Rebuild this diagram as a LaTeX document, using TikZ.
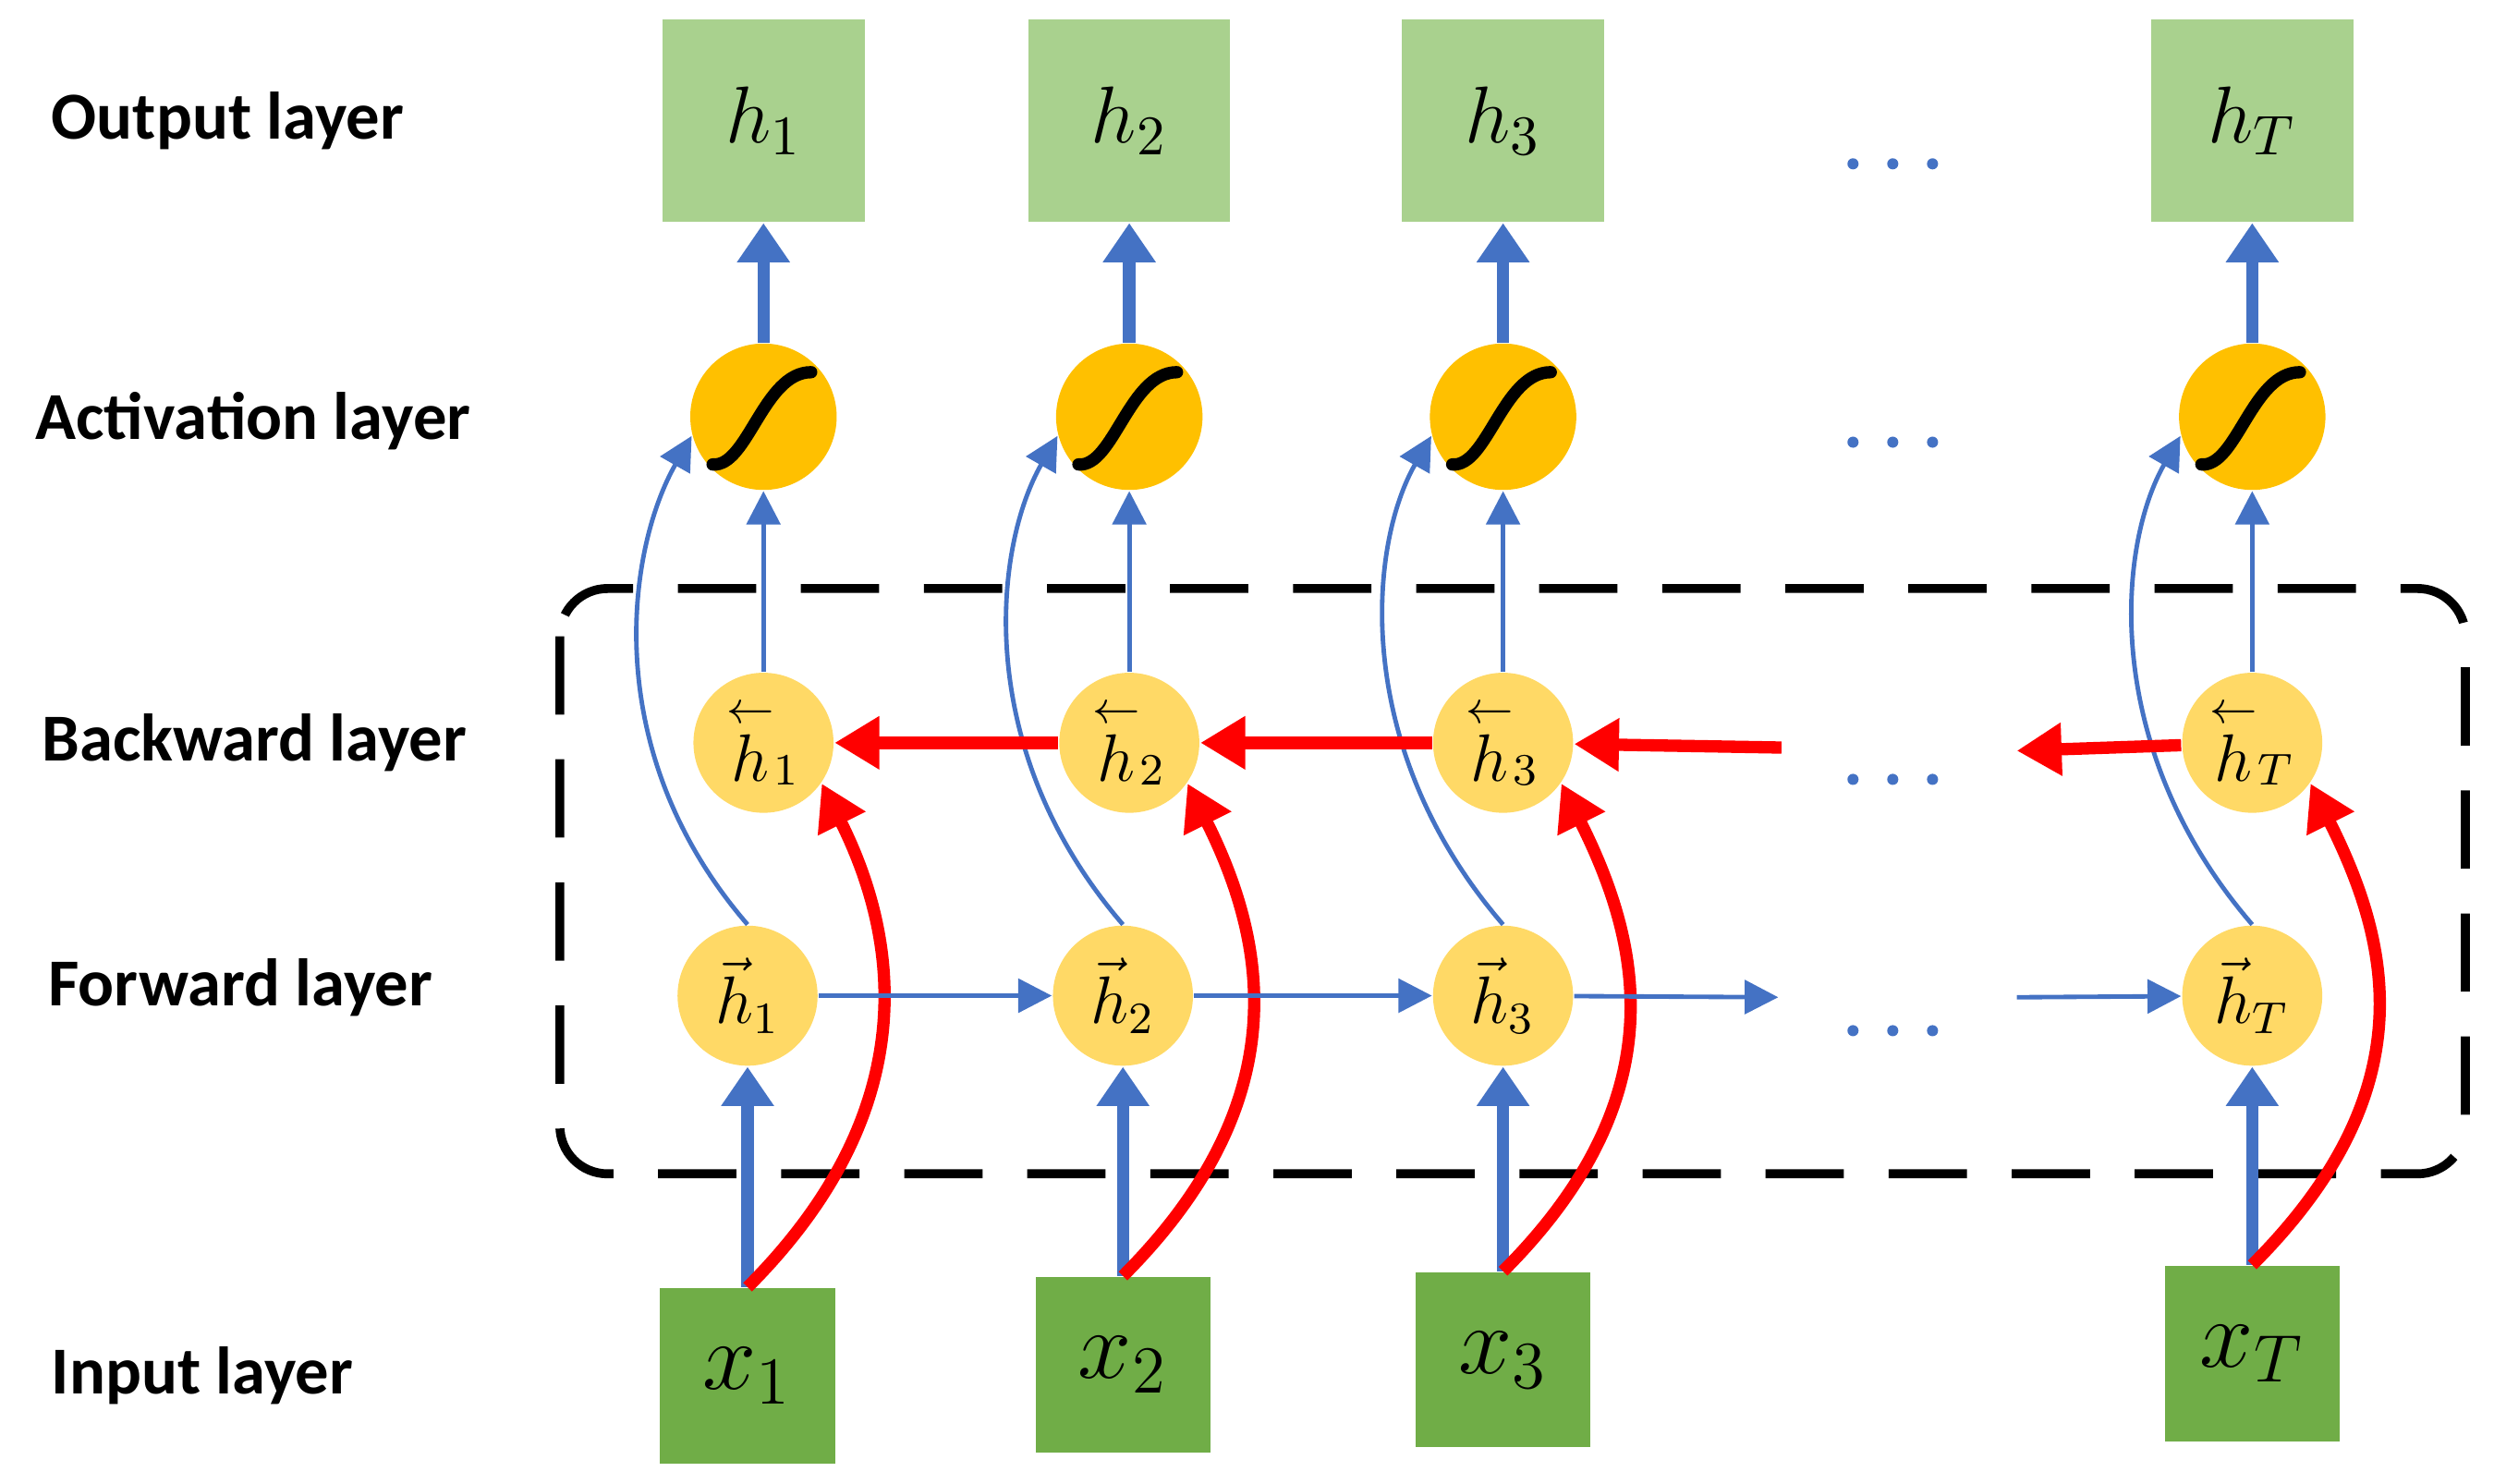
\documentclass[tikz,border=0pt]{standalone}
\usepackage{fontspec}
\newfontfamily\labfont{Carlito}
\usetikzlibrary{arrows.meta}
\definecolor{outgreen}{HTML}{A9D18E}
\definecolor{ingreen}{HTML}{70AD47}
\definecolor{actyellow}{HTML}{FFC000}
\definecolor{hidyellow}{HTML}{FFD966}
\definecolor{arrblue}{HTML}{4472C4}
\tikzset{
  box/.style={draw=none, minimum size=1.27cm, inner sep=0pt, font=\Large},
  inbox/.style={box, fill=ingreen, minimum size=1.1cm, font=\LARGE},
  act/.style={circle, fill=actyellow, minimum size=0.92cm, inner sep=0pt},
  hid/.style={circle, fill=hidyellow, minimum size=0.88cm, inner sep=0pt, font=\large},
  layer/.style={anchor=west, font=\labfont\bfseries\fontsize{12}{14}\selectfont},
  thick arrow/.style={arrblue, line width=2.2pt, -{Triangle[length=7pt,width=9pt]}},
  thin arrow/.style={arrblue, line width=0.8pt, -{Triangle[length=6pt,width=6pt]}},
  red arrow/.style={red, line width=2.2pt, -{Triangle[length=8pt,width=9pt]}},
  dot/.style={circle, fill=arrblue, minimum size=0.07cm, inner sep=0pt},
}
\begin{document}
\begin{tikzpicture}[x=0.01cm, y=-0.01cm]
  \useasboundingbox (0,0) rectangle (1568,933);

  % layer names
  \node[layer] (lout) at (20,76) {Output layer};
  \node[layer] (lact) at (10,265) {Activation layer};
  \node[layer] (lbw) at (14,467) {Backward layer};
  \node[layer] (lfw) at (18,621) {Forward layer};
  \node[layer] (lin) at (20,865) {Input layer};

  % dashed frame
  \draw[black, line width=1.6pt, dash pattern=on 14pt off 8pt, rounded corners=0.3cm]
    (352,370) rectangle (1550,738);

  % columns
  \foreach \i/\x/\s/\yin in {1/480/10/865, 2/710/4/858, 3/945/0/855, T/1416/0/851} {
    \node[box, fill=outgreen] (out\i) at (\x,76) {$h_{\i}$};
    \node[act] (act\i) at (\x,262) {};
    \draw[line width=2.2pt, line cap=round] ([shift={(-32,30)}]act\i.center)
      .. controls +(22,2) and +(-30,0) .. ++(62,-58);
    \node[hid] (bw\i) at (\x,467) {$\stackrel{\leftarrow}{h}_{\i}$};
    \node[hid] (fw\i) at (\x-\s,626) {$\vec{h}_{\i}$};
    \node[inbox] (in\i) at (\x-\s,\yin) {$x_{\i}$};
    \draw[thick arrow] (act\i) -- (out\i);
    \draw[thin arrow] (bw\i) -- (act\i);
    \draw[thick arrow] (in\i.north) -- (fw\i);
    \draw[thin arrow] (fw\i.north) .. controls +(-95,-110) and +(-40,70) .. (act\i.195);
    \draw[red arrow] (in\i.north) .. controls +(110,-110) and +(50,100) .. (bw\i.-35);
  }
  % forward chain
  \coordinate (fwend) at (1118,627);
  \coordinate (fwstart) at (1268,627);
  \draw[thin arrow] (fw1) -- (fw2);
  \draw[thin arrow] (fw2) -- (fw3);
  \draw[thin arrow] (fw3) -- (fwend);
  \draw[thin arrow] (fwstart) -- (fwT);
  % backward chain
  \coordinate (bwstart) at (1120,470);
  \coordinate (bwend) at (1268,472);
  \draw[red arrow] (bw2) -- (bw1);
  \draw[red arrow] (bw3) -- (bw2);
  \draw[red arrow] (bwstart) -- (bw3);
  \draw[red arrow] (bwT) -- (bwend);

  % dots
  \foreach \y [count=\k] in {103,278,490,648} {
    \foreach \dx in {-25,0,25} {
      \node[dot] (dot\k\dx) at (1190+\dx,\y) {};
    }
  }
\end{tikzpicture}
\end{document}
